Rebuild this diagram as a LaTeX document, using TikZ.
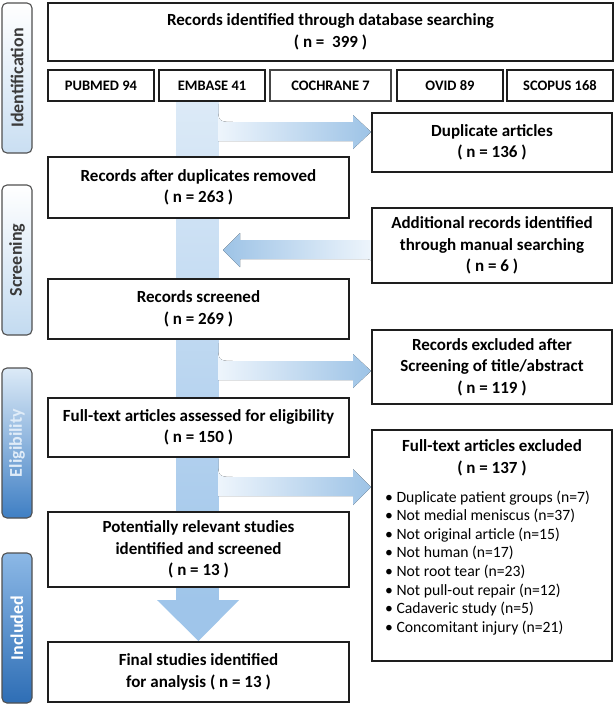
\documentclass[tikz,border=0pt]{standalone}
\usepackage{fontspec}
\setmainfont{Carlito}
\usetikzlibrary{calc}
\definecolor{barTop}{HTML}{DCEAF7}
\definecolor{barBot}{HTML}{9FC5EA}
\definecolor{armL}{HTML}{EEF5FC}
\definecolor{armR}{HTML}{9DC3E6}
\definecolor{lblBorder}{HTML}{505050}
\definecolor{boxBorder}{HTML}{1E1E1E}
\definecolor{lblText}{HTML}{3A3A3A}
\pgfdeclarelayer{bg}
\pgfsetlayers{bg,main}
\newcommand\mfnt{\fontsize{17}{21.5}\selectfont\bfseries}
\newcommand\dbfnt{\fontsize{14.5}{17}\selectfont\bfseries}
\newcommand\lfnt{\fontsize{15.7}{18.6}\selectfont}
\newcommand\sidefnt{\fontsize{18}{20}\selectfont\bfseries}
\begin{document}
\begin{tikzpicture}[x=1pt,y=-1pt,
  box/.style={draw=boxBorder, line width=2pt, fill=white, align=center, inner sep=2pt, font=\mfnt},
  dbbox/.style={box, font=\dbfnt, minimum height=31pt},
  side/.style={draw=lblBorder, line width=1.1pt, rounded corners=5pt, minimum width=30pt, minimum height=150pt, inner sep=0pt, font=\sidefnt},
  armshade/.style={left color=armL, right color=armR},
  armshadeL/.style={left color=armR, right color=armL}
]
\useasboundingbox (0,0) rectangle (614,705);

% side labels
\node[side, top color=white, bottom color=barTop!70!armR, text=lblText] (lid) at (17,78) {\rotatebox{90}{Identification}};
\node[side, top color=white, bottom color=barTop!60!armR, text=lblText] (lsc) at (17,260) {\rotatebox{90}{Screening}};
\node[side, top color=barTop, bottom color={rgb,255:red,63;green,127;blue,196}, text={rgb,255:red,224;green,236;blue,248}] (lel) at (17,443) {\rotatebox{90}{Eligibility}};
\node[side, top color={rgb,255:red,140;green,184;blue,230}, bottom color={rgb,255:red,46;green,110;blue,181}, text=white] (lin) at (17,628) {\rotatebox{90}{Included}};

% top row
\node[box, minimum width=565pt, minimum height=58pt] (top) at (330.5,32) {Records identified through database searching\\( n = ~399 )};
\node[dbbox, minimum width=106pt] (pub) at (101,85.5) {PUBMED 94};
\node[dbbox, minimum width=106pt] (emb) at (212,85.5) {EMBASE 41};
\node[dbbox, minimum width=121pt, draw={rgb,255:red,70;green,70;blue,70}] (coch) at (330.5,85.5) {COCHRANE 7};
\node[dbbox, minimum width=106pt] (ovid) at (450,85.5) {OVID 89};
\node[dbbox, minimum width=106pt] (scop) at (560,85.5) {SCOPUS 168};

% left column
\node[box, minimum width=301pt, minimum height=61pt] (dedup) at (198.5,187.5) {Records after duplicates removed\\( n = 263 )};
\node[box, minimum width=301pt, minimum height=60pt] (scr) at (198.5,309) {Records screened\\( n = 269 )};
\node[box, minimum width=301pt, minimum height=59pt] (fta) at (198.5,427.5) {Full-text articles assessed for eligibility\\( n = 150 )};
\node[box, minimum width=301pt, minimum height=75pt] (pot) at (198.5,549.5) {Potentially relevant studies\\identified and screened\\( n = 13 )};
\node[box, minimum width=301pt, minimum height=60pt] (fin) at (198.5,672) {Final studies identified\\for analysis ( n = 13 )};

% right column
\node[box, minimum width=240pt, minimum height=59pt] (dupart) at (492,142.5) {Duplicate articles\\( n = 136 )};
\node[box, minimum width=240pt, minimum height=75pt] (addl) at (492,245.5) {Additional records identified\\through manual searching\\( n = 6 )};
\node[box, minimum width=240pt, minimum height=74pt] (excl) at (492,367) {Records excluded after\\Screening of title/abstract\\( n = 119 )};
\node[box, minimum width=240pt, minimum height=231pt] (ftex) at (492,545.5) {};
\node[font=\mfnt, align=center, inner sep=0pt, anchor=north] (ftextitle) at (492,439.5) {Full-text articles excluded\\( n = 137 )};
\node[font=\lfnt, align=left, inner sep=0pt, anchor=north west] (ftexlist) at (385,490.5) {%
• Duplicate patient groups (n=7)\\
• Not medial meniscus (n=37)\\
• Not original article (n=15)\\
• Not human (n=17)\\
• Not root tear (n=23)\\
• Not pull-out repair (n=12)\\
• Cadaveric study (n=5)\\
• Concomitant injury (n=21)};

\begin{pgfonlayer}{bg}
\fill[white] (0,0) rectangle (614,705);
% main vertical bar
\fill[top color=barTop, bottom color=barBot] (176.5,101) rectangle (218.5,600.5);
% final arrow head
\fill[barBot] (157,600) -- (239,600) -- (fin.north) -- cycle;
% duplicate branch
\fill[armshade] (218,104) .. controls (218,122) .. (236,122) -- (353,122) -- (353,115) -- ($(dupart.west)+(0,-10.5)$) -- (353,149) -- (353,141) -- (218,141) -- cycle;
% additional records arrow (pointing left)
\fill[armshadeL] ($(addl.west)+(0,-5.5)$) -- (240,240) -- (240,233) -- (223,250) -- (240,267) -- (240,259) -- (362,259) .. controls (372,259) .. (372,268) -- cycle;
% records excluded branch
\fill[armshade] (218,343) .. controls (218,361) .. (236,361) -- (353,361) -- (353,354) -- ($(excl.west)+(0,4)$) -- (353,388) -- (353,380) -- (218,380) -- cycle;
% full-text excluded branch
\fill[armshade] (218,459) .. controls (218,477) .. (236,477) -- (353,477) -- (353,469) -- ($(ftex.west)+(0,-58.5)$) -- (353,505) -- (353,496) -- (218,496) -- cycle;
\end{pgfonlayer}
\end{tikzpicture}
\end{document}
